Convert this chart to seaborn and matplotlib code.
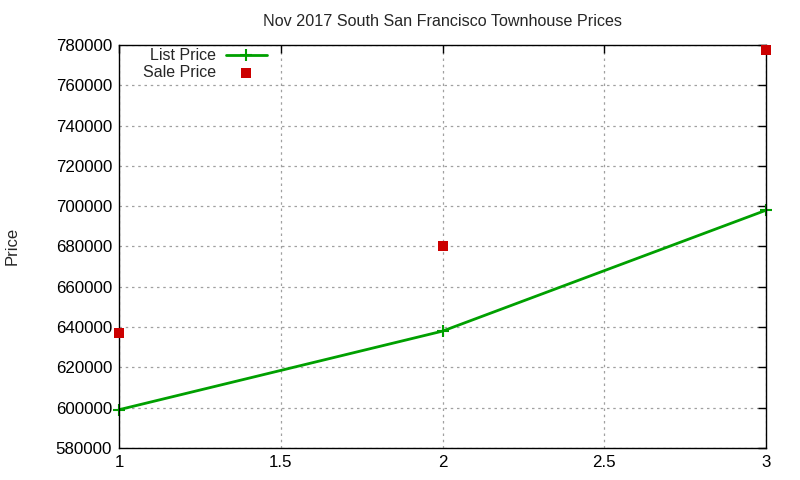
import matplotlib
matplotlib.use("Agg")
import matplotlib.pyplot as plt
import seaborn as sns
import pandas as pd
from matplotlib.ticker import FuncFormatter

x_vals = [1, 2, 3]
list_price = [599000, 638000, 698000]
sale_price = [637000, 680000, 777500]
x_ticks = [1, 1.5, 2, 2.5, 3]
y_ticks = list(range(580000, 780001, 20000))

df = pd.DataFrame({"x": x_vals, "List Price": list_price, "Sale Price": sale_price})

sns.set_style("white")
plt.rcParams['font.family'] = ['Liberation Sans', 'DejaVu Sans']

fig = plt.figure(figsize=(8, 4.8), dpi=100)
ax = fig.add_axes([119/800, 1 - 448/480, (766-119)/800, (448-45)/480])

sns.lineplot(data=df, x="x", y="List Price", ax=ax, color="#00a000", lw=2,
             marker="+", markersize=9, markeredgewidth=1.5, markeredgecolor="#00a000",
             label="List Price", clip_on=False)
sns.scatterplot(data=df, x="x", y="Sale Price", ax=ax, color="#cc0000", marker="s",
                s=50, linewidth=0, label="Sale Price", clip_on=False, zorder=5)

ax.set_xlim(1, 3)
ax.set_ylim(580000, 780000)
ax.set_xticks(x_ticks)
ax.set_yticks(y_ticks)
ax.xaxis.set_major_formatter(FuncFormatter(lambda v, p: f"{v:g}"))
ax.yaxis.set_major_formatter(FuncFormatter(lambda v, p: f"{int(v)}"))
ax.grid(True, color="#a0a0a0", linestyle=(0, (2, 3)), lw=0.9)
ax.tick_params(direction="in", length=6, width=1, labelsize=12.2, top=True, right=True,
               colors="black", pad=5)
for s in ax.spines.values():
    s.set_color("black")
    s.set_linewidth(1)
ax.set_xlabel("")
ax.set_ylabel("")
fig.text(12/800, 1 - 246/480, "Price", rotation=90, fontsize=12, ha="center", va="center")
ax.set_title("Nov 2017 South San Francisco Townhouse Prices", fontsize=11.6, pad=14)

leg = ax.legend(loc="upper left", bbox_to_anchor=(0.0195, 1.02), frameon=False,
                markerfirst=False, fontsize=11.5, handlelength=2.6, borderaxespad=0.3,
                labelspacing=0.1, handletextpad=0.6)

fig.savefig("out.png", dpi=100)
